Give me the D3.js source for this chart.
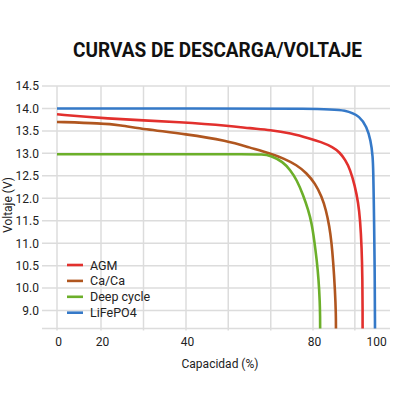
<!DOCTYPE html>
<html><head><meta charset="utf-8">
<script src="https://cdn.jsdelivr.net/npm/d3@7/dist/d3.min.js"></script>
<style>body{margin:0;background:#fff}svg{display:block}</style>
</head><body>
<svg id="c" width="416" height="416"></svg>
<script>
const title = "CURVAS DE DESCARGA/VOLTAJE";
const xTitle = "Capacidad (%)";
const yTitle = "Voltaje (V)";
const seriesNames = ["AGM", "Ca/Ca", "Deep cycle", "LiFePO4"];
const seriesColors = ["#e2302d", "#b0561f", "#6caf2a", "#3579c8"];
const xTickValues = [0, 20, 40, 80, 100];
const xGridValues = [0, 20, 30, 40, 53.3, 66.7, 80, 93.5];
const yTickValues = [14.5, 14.0, 13.5, 13.0, 12.5, 12.0, 11.5, 11.0, 10.5, 10.0, 9.5];
const yTickLabels = ["14.5", "14.0", "13.5", "13.0", "12.5", "12.0", "11.5", "11.0", "10.5", "10.0", "9.0"];

const agmX =  [0, 20, 40, 54, 60, 66.7, 72.8, 79.5, 82.3, 86.5, 88.6, 90.4, 92.0, 93.5, 94.6, 95.2, 95.7, 95.95, 96.0, 96.0];
const agmY =  [13.87, 13.78, 13.69, 13.61, 13.56, 13.52, 13.45, 13.32, 13.26, 13.14, 13.02, 12.86, 12.64, 12.28, 11.9, 11.52, 10.92, 10.18, 9.5, 9.1];
const cacaX = [0, 20, 24.5, 30, 40, 53, 60, 66.5, 70.7, 74.9, 78.0, 80.7, 82.8, 84.2, 85.3, 86.0, 86.5, 87.1, 87.4, 87.4];
const cacaY = [13.70, 13.67, 13.63, 13.54, 13.43, 13.28, 13.13, 13.0, 12.89, 12.74, 12.56, 12.33, 12.04, 11.74, 11.37, 11.0, 10.6, 9.96, 9.4, 9.1];
const deepX = [0, 40, 60, 64, 66.5, 70.6, 72.8, 74.9, 76.9, 78.5, 79.6, 80.4, 81.2, 81.8, 82.2, 82.3, 82.3];
const deepY = [12.98, 12.98, 12.98, 12.975, 12.96, 12.81, 12.63, 12.41, 12.07, 11.74, 11.44, 11.07, 10.63, 10.2, 9.7, 9.35, 9.1];
const lifeX = [0, 40, 82.3, 90.9, 95.2, 97.3, 98.6, 99.3, 99.45, 99.6, 99.7, 99.9, 100];
const lifeY = [14.0, 14.0, 14.0, 13.97, 13.82, 13.59, 13.3, 12.93, 12.56, 11.96, 11.52, 10.5, 9.1];

const seriesX = [agmX, cacaX, deepX, lifeX];
const seriesY = [agmY, cacaY, deepY, lifeY];

const svg = d3.select("#c");
const font = "Roboto, 'DejaVu Sans', sans-serif";

const x = d3.scaleLinear().domain([0, 20, 40, 80, 100]).range([57, 101, 186, 313, 375]);
const y = d3.scaleLinear().domain([9.1, 14.5]).range([328.5, 86]);
const gridLeft = 42, gridRight = 390;

// horizontal grid
svg.append("g").selectAll("line").data(yTickValues.concat([9.1])).join("line")
  .attr("x1", gridLeft).attr("x2", gridRight)
  .attr("y1", d => y(d)).attr("y2", d => y(d))
  .attr("stroke", "#dcdcdc").attr("stroke-width", 1.5);
// vertical grid
svg.append("g").selectAll("line").data(xGridValues).join("line")
  .attr("x1", d => x(d)).attr("x2", d => x(d))
  .attr("y1", y(14.5)).attr("y2", y(9.1) + 2)
  .attr("stroke", "#dcdcdc").attr("stroke-width", 1.5);

// y axis labels
const yAxis = d3.axisLeft(y).tickValues(yTickValues).tickSize(0).tickPadding(0)
  .tickFormat((d, i) => yTickLabels[i]);
const gy = svg.append("g").attr("transform", "translate(39,0)").call(yAxis);
gy.select(".domain").remove();
gy.selectAll("text").attr("font-family", font).attr("font-size", 12).attr("fill", "#222");

// x axis labels
const xAxis = d3.axisBottom(x).tickValues(xTickValues).tickSize(0).tickPadding(0)
  .tickFormat(d3.format("d"));
const gx = svg.append("g").attr("transform", "translate(1,337)").call(xAxis);
gx.select(".domain").remove();
gx.selectAll("text").attr("font-family", font).attr("font-size", 12).attr("fill", "#222");

// lines
const line = d3.line().x(d => x(d[0])).y(d => y(d[1])).curve(d3.curveBasis);
seriesNames.forEach((name, i) => {
  const pts = seriesX[i].map((v, j) => [v, seriesY[i][j]]);
  svg.append("path").datum(pts).attr("d", line)
    .attr("fill", "none").attr("stroke", seriesColors[i]).attr("stroke-width", 2.6)
    .attr("stroke-linecap", "butt");
});

// legend
const lg = svg.append("g").attr("transform", "translate(67,265)");
seriesNames.forEach((name, i) => {
  const g = lg.append("g").attr("transform", `translate(0,${i * 15.9})`);
  g.append("line").attr("x1", 0).attr("x2", 16).attr("stroke", seriesColors[i]).attr("stroke-width", 2.6);
  g.append("text").attr("x", 23).attr("y", 4.5).text(name)
    .attr("font-family", font).attr("font-size", 12.5).attr("fill", "#222");
});

// titles
svg.append("text").attr("x", 217.5).attr("y", 57).attr("text-anchor", "middle")
  .attr("font-family", font).attr("font-weight", 700).attr("font-size", 20)
  .attr("textLength", 289).attr("lengthAdjust", "spacingAndGlyphs")
  .attr("fill", "#111").text(title);
svg.append("text").attr("x", 220).attr("y", 368).attr("text-anchor", "middle")
  .attr("font-family", font).attr("font-size", 12).attr("fill", "#222").text(xTitle);
svg.append("text").attr("transform", "translate(12,205) rotate(-90)").attr("text-anchor", "middle")
  .attr("font-family", font).attr("font-size", 12).attr("fill", "#222").text(yTitle);
</script>
</body></html>
